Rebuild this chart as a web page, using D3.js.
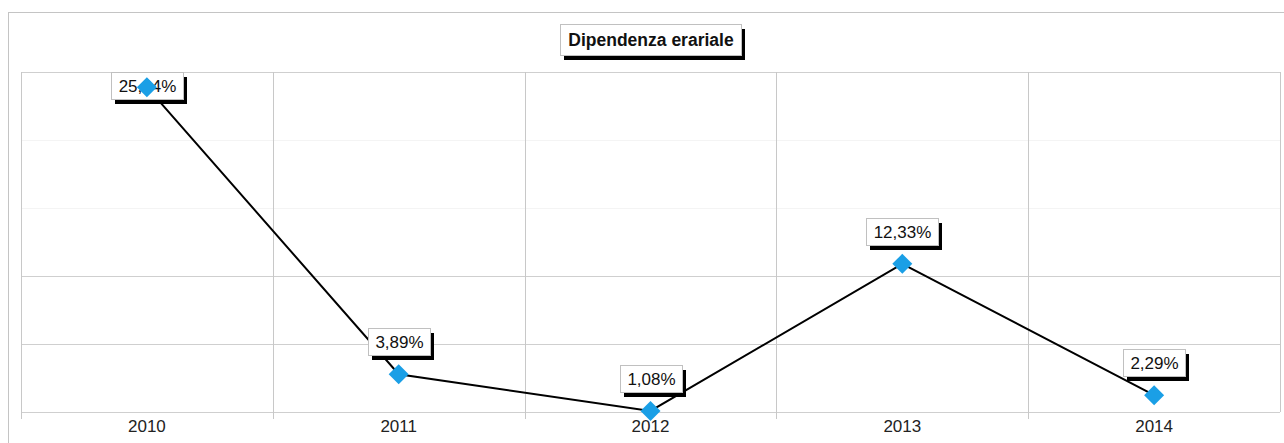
<!DOCTYPE html>
<html>
<head>
<meta charset="utf-8">
<script src="https://cdn.jsdelivr.net/npm/d3@7"></script>
<style>
  body { margin: 0; background: #fff; }
  svg { display: block; font-family: "Liberation Sans", Arial, sans-serif; }
</style>
</head>
<body>
<svg id="chart"></svg>
<script>
// Chart data
const years = ["2010", "2011", "2012", "2013", "2014"];
const values = [25.84, 3.89, 1.08, 12.33, 2.29];
const title = "Dipendenza erariale";

const width = 1284, height = 443;
const margin = { top: 72, right: 4, bottom: 31, left: 21 };
const yMin = 1, yMax = 27, gridCount = 5;

const it = d3.formatLocale({ decimal: ",", thousands: ".", grouping: [3], currency: ["€", ""] });
const fmt = it.format(".2f");

const svg = d3.select("#chart").attr("width", width).attr("height", height);

// outer frame
svg.append("rect")
  .attr("x", 8.5).attr("y", 12.5)
  .attr("width", width).attr("height", height)
  .attr("fill", "none").attr("stroke", "#c4c4c4");

const x = d3.scaleBand()
  .domain(years)
  .range([margin.left, width - margin.right]);

const y = d3.scaleLinear()
  .domain([yMin, yMax])
  .range([height - margin.bottom, margin.top]);

const plotTop = y(yMax), plotBottom = y(yMin);

// horizontal grid - upper inner lines are barely visible in the original
const gridVals = d3.range(gridCount + 1).map(i => yMin + i * (yMax - yMin) / gridCount);
svg.append("g").selectAll("line")
  .data(gridVals)
  .join("line")
  .attr("x1", margin.left).attr("x2", width - margin.right)
  .attr("y1", d => Math.round(y(d)) + 0.5).attr("y2", d => Math.round(y(d)) + 0.5)
  .attr("stroke", (d, i) => (i === 3 || i === 4) ? "#f4f4f4" : "#cfcfcf");

// vertical grid (band boundaries) + frame sides
const bounds = years.map(d => x(d)).concat([x.range()[1]]);
svg.append("g").selectAll("line")
  .data(bounds)
  .join("line")
  .attr("x1", d => Math.round(d) + 0.5).attr("x2", d => Math.round(d) + 0.5)
  .attr("y1", plotTop).attr("y2", (d, i) => i === bounds.length - 1 ? plotBottom : plotBottom + 7)
  .attr("stroke", "#c8c8c8");

// x axis labels
const xAxis = d3.axisBottom(x).tickSize(0).tickPadding(8);
const gx = svg.append("g")
  .attr("transform", `translate(0,${plotBottom})`)
  .call(xAxis);
gx.select(".domain").remove();
gx.selectAll("text")
  .attr("font-size", 17)
  .attr("font-family", "Liberation Sans, Arial, sans-serif")
  .attr("fill", "#222");

// line
const line = d3.line()
  .x((d, i) => x(years[i]) + x.bandwidth() / 2)
  .y(d => y(d));

svg.append("path")
  .datum(values)
  .attr("d", line)
  .attr("fill", "none")
  .attr("stroke", "#000")
  .attr("stroke-width", 2);

// boxed label helper with black drop shadow
function boxLabel(g, text, cx, top, opts) {
  const t = g.append("text")
    .attr("text-anchor", "middle")
    .attr("font-size", opts.size)
    .attr("font-weight", opts.weight || "normal")
    .attr("fill", "#111")
    .text(text);
  const w = Math.round(t.node().getComputedTextLength() + opts.pad * 2);
  const h = opts.h;
  const left = Math.round(cx - w / 2);
  g.insert("rect", "text")
    .attr("x", left + 4).attr("y", top + 5)
    .attr("width", w).attr("height", h)
    .attr("fill", "#000");
  g.insert("rect", "text")
    .attr("x", left + 0.5).attr("y", top + 0.5)
    .attr("width", w).attr("height", h)
    .attr("fill", "#fff").attr("stroke", "#c0c0c0");
  t.attr("x", left + w / 2 + 0.5).attr("y", top + opts.base);
}

// data labels
const labels = svg.append("g");
values.forEach((v, i) => {
  const cx = x(years[i]) + x.bandwidth() / 2;
  const h = 27;
  let top = y(v) - 19 - h;
  if (top < plotTop) top = plotTop;
  boxLabel(labels.append("g"), fmt(v) + "%", cx, Math.round(top), { size: 17, pad: 7, h: h, base: 20 });
});

// markers
svg.append("g").selectAll("path")
  .data(values)
  .join("path")
  .attr("d", d3.symbol(d3.symbolSquare, 200))
  .attr("transform", (d, i) => `translate(${x(years[i]) + x.bandwidth() / 2},${y(d)}) rotate(45)`)
  .attr("fill", "#1a9fe6");

// title
boxLabel(svg.append("g"), title, (x.range()[0] + x.range()[1]) / 2, 24,
  { size: 17.5, weight: "bold", pad: 8, h: 31, base: 22 });
</script>
</body>
</html>
